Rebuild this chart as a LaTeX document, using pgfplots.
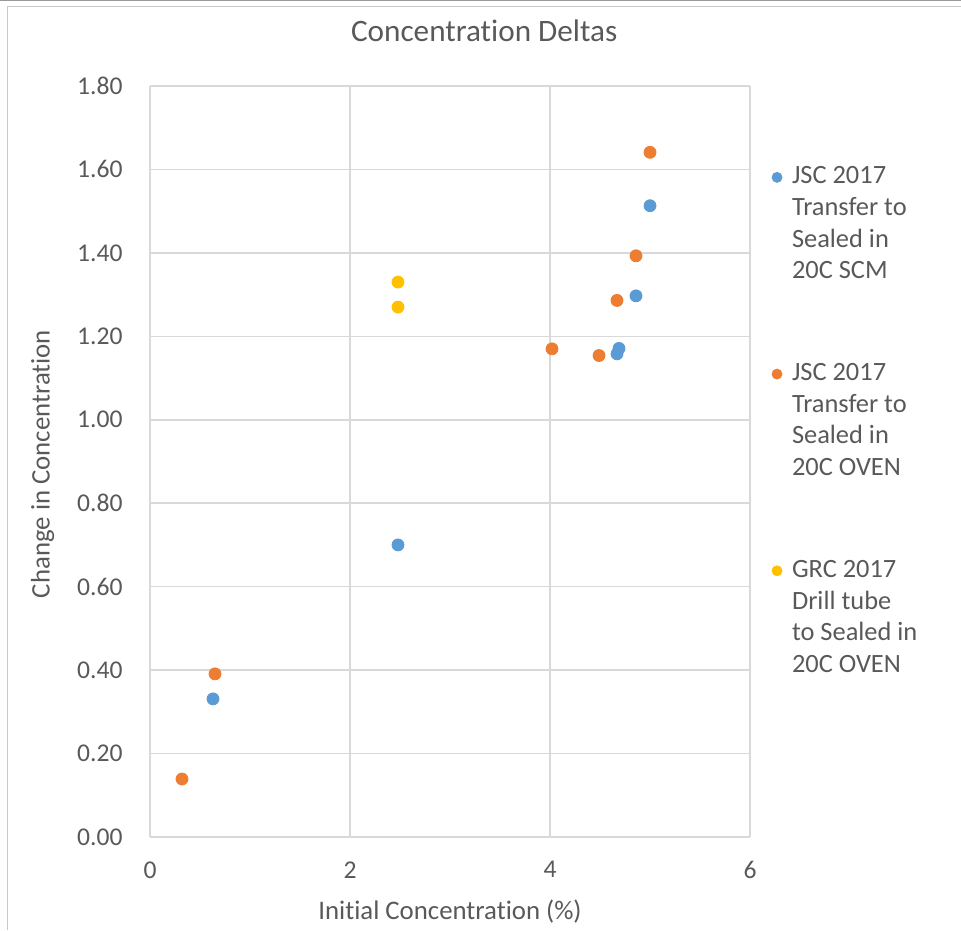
\documentclass[border=0pt]{standalone}
\usepackage{fontspec}
\setmainfont{Carlito}[Ligatures=NoCommon]
\usepackage{pgfplots}
\pgfplotsset{compat=1.18}
\definecolor{sblue}{HTML}{5B9BD5}
\definecolor{sorange}{HTML}{ED7D31}
\definecolor{syellow}{HTML}{FFC000}
\definecolor{textgray}{HTML}{595959}
\definecolor{gridgray}{HTML}{D9D9D9}
\definecolor{framegray}{HTML}{C8C8C8}
\pgfplotsset{legimg/.style={legend image code/.code={\draw[##1,mark size=2.5pt] plot coordinates {(0pt,0.33em)};}}}
\begin{document}
\begin{tikzpicture}
\path[use as bounding box] (0,0) rectangle (480.5pt,465pt);
\draw[color=gray!80, line width=0.6pt] (0,464.7pt) -- (480.5pt,464.7pt);
\draw[color=framegray, line width=0.6pt] (3.75pt,461.75pt) -- (480.5pt,461.75pt);
\draw[color=framegray, line width=0.6pt] (3.75pt,0pt) -- (3.75pt,461.75pt);
\begin{axis}[
  at={(75pt,46.5pt)}, anchor=south west,
  scale only axis, width=300pt, height=375.5pt,
  xmin=0, xmax=6, ymin=0, ymax=1.8,
  xtick={0,2,4,6},
  ytick={0,0.2,0.4,0.6,0.8,1.0,1.2,1.4,1.6,1.8},
  grid=major,
  grid style={color=gridgray, line width=0.75pt},
  axis line style={draw=none},
  major tick length=0pt,
  /pgf/number format/assume math mode=true,
  tick label style={font=\fontsize{12.8}{15}\selectfont, text=textgray, inner sep=0pt},
  xticklabel style={anchor=north, yshift=-12pt},
  yticklabel style={anchor=east, xshift=-13.5pt, /pgf/number format/.cd, fixed, fixed zerofill, precision=2},
  title={Concentration Deltas},
  title style={font=\fontsize{15.6}{18}\selectfont, text=textgray, at={(axis description cs:0.557,1.057)}, anchor=center, inner sep=0pt},
  xlabel={Initial Concentration (\%)},
  ylabel={Change in Concentration},
  label style={font=\fontsize{13.4}{16}\selectfont, text=textgray, inner sep=0pt},
  xlabel style={at={(axis description cs:0.5,-0.0992)}, anchor=center},
  ylabel style={at={(axis description cs:-0.179,0.4967)}, anchor=center},
  legend style={at={(axis description cs:1.0367,0.899)}, anchor=north west,
    draw=none, fill=none, inner sep=0pt, outer sep=0pt,
    row sep=85.8pt, column sep=5pt,
    cells={anchor=base west},
    nodes={inner sep=0pt},
    font=\fontsize{13.2}{15.8}\selectfont, text=textgray},
]
\addplot[only marks, mark=*, mark size=3pt, color=sblue, mark options={draw=sblue, fill=sblue}, legimg]
  coordinates {(0.63,0.331) (2.48,0.700) (4.67,1.158) (4.69,1.171) (4.86,1.297) (5.00,1.513)};
\addlegendentry{\parbox[t]{75pt}{\raggedright\strut JSC 2017\\Transfer to\\Sealed in\\20C SCM\strut}}
\addplot[only marks, mark=*, mark size=3pt, color=sorange, mark options={draw=sorange, fill=sorange}, legimg]
  coordinates {(0.32,0.139) (0.65,0.391) (4.02,1.170) (4.49,1.154) (4.67,1.286) (4.86,1.393) (5.00,1.641)};
\addlegendentry{\parbox[t]{75pt}{\raggedright\strut JSC 2017\\Transfer to\\Sealed in\\20C OVEN\strut}}
\addplot[only marks, mark=*, mark size=3pt, color=syellow, mark options={draw=syellow, fill=syellow}, legimg]
  coordinates {(2.48,1.330) (2.48,1.270)};
\addlegendentry{\parbox[t]{75pt}{\raggedright\strut GRC 2017\\Drill tube\\to Sealed in\\20C OVEN\strut}}
\end{axis}
\end{tikzpicture}
\end{document}
